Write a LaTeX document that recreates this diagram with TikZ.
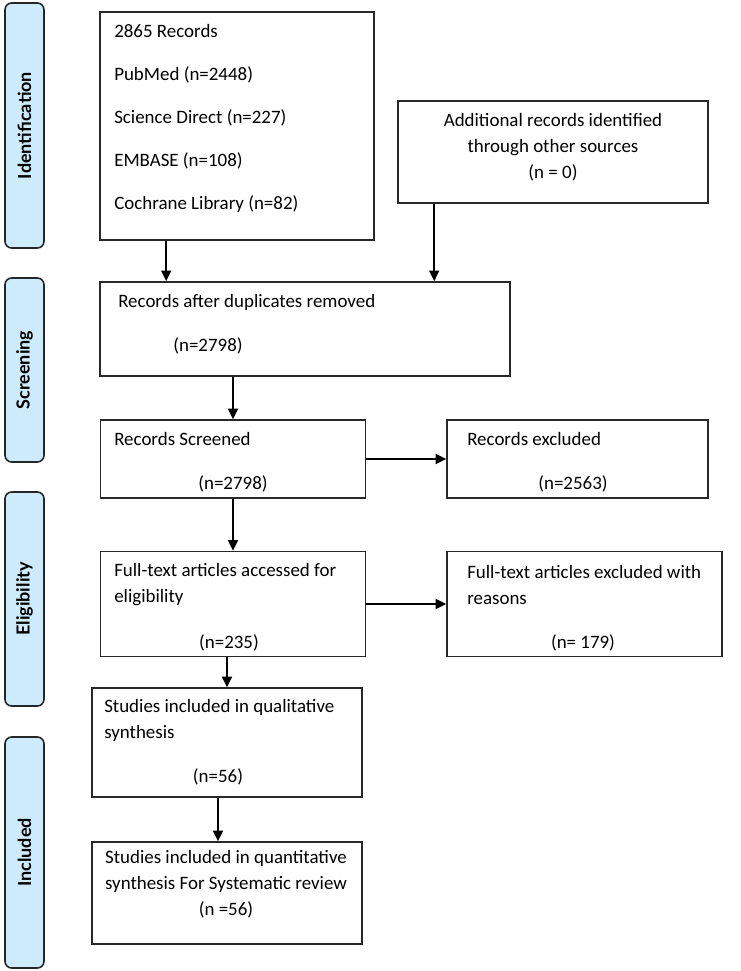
\documentclass[tikz,border=0pt]{standalone}
\usepackage{fontspec}
\setmainfont{Carlito}
\newfontfamily\phasefont{Lato}
\usetikzlibrary{calc,positioning,arrows.meta}
\definecolor{phasefill}{RGB}{205,235,250}
\definecolor{boxline}{RGB}{40,40,40}

\begin{document}
\begin{tikzpicture}[
  x=0.75pt, y=-0.75pt,
  phase/.style={draw=black!85, fill=phasefill, rounded corners=5pt, line width=1.2pt,
    rotate=90, minimum height=29.25pt, inner sep=0pt,
    font=\phasefont\bfseries\fontsize{13.5}{15}\selectfont},
  box/.style={draw=boxline, line width=1.2pt, inner sep=0pt},
  txt/.style={font=\fontsize{14.2}{19.5}\selectfont, inner sep=0pt, align=left, anchor=west},
  num/.style={font=\fontsize{14.2}{19.5}\selectfont, inner sep=0pt, align=center},
  arr/.style={-{Triangle[length=8pt,width=7.5pt]}, line width=1.4pt},
]
  \useasboundingbox (0,0) rectangle (740,971);

  % phases
  \node[phase, minimum width=183.75pt] (ident) at (24.5,125.5) {Identification};
  \node[phase, minimum width=138pt] (screen) at (24.5,370) {Screening};
  \node[phase, minimum width=160.5pt] (elig) at (24.5,599) {Eligibility};
  \node[phase, minimum width=173.25pt] (incl) at (24.5,852.5) {Included};

  % boxes
  \node[box, minimum width=205.5pt, minimum height=171pt] (recs) at (237,126) {};
  \node[box, minimum width=232.5pt, minimum height=76.5pt] (extra) at (553,152) {};
  \node[box, minimum width=307.5pt, minimum height=70.5pt] (dedup) at (305,329) {};
  \node[box, minimum width=198.75pt, minimum height=58.5pt] (scr) at (233,459) {};
  \node[box, minimum width=195.75pt, minimum height=58.5pt] (scrx) at (577.5,459) {};
  \node[box, minimum width=198.75pt, minimum height=78.75pt] (full) at (233,604) {};
  \node[box, minimum width=206.25pt, minimum height=78.75pt] (fullx) at (584.5,604) {};
  \node[box, minimum width=202.5pt, minimum height=81.75pt] (qual) at (227,742.5) {};
  \node[box, minimum width=202.5pt, minimum height=76.5pt] (quant) at (227,893) {};

  % texts
  \node[txt, font=\fontsize{14.2}{32.25}\selectfont] (recst) at (114,118.5)
    {2865 Records\\PubMed (n=2448)\\Science Direct (n=227)\\EMBASE (n=108)\\Cochrane Library (n=82)};
  \node[num] (extrat) at (553,147)
    {Additional records identified\\through other sources\\(n = 0)};
  \node[txt] (dedupt) at (118,302) {Records after duplicates removed};
  \node[num] (dedupn) at (208,346) {(n=2798)};
  \node[txt] (scrt) at (114,439) {Records Screened};
  \node[num] (scrn) at (233,484) {(n=2798)};
  \node[txt] (scrxt) at (467,439) {Records excluded};
  \node[num] (scrxn) at (573,484) {(n=2563)};
  \node[txt] (fullt) at (114,585) {Full-text articles accessed for\\eligibility};
  \node[num] (fulln) at (229,643) {(n=235)};
  \node[txt] (fullxt) at (467,585) {Full-text articles excluded with\\reasons};
  \node[num] (fullxn) at (583,643) {(n= 179)};
  \node[txt] (qualt) at (104,720) {Studies included in qualitative\\synthesis};
  \node[num] (qualn) at (218,777) {(n=56)};
  \node[num] (quantt) at (226,884)
    {Studies included in quantitative\\synthesis For Systematic review\\(n =56)};

  % arrows
  \draw[arr] ([xshift=50.25pt]recs.south west) -- ([xshift=50.25pt]dedup.north west);
  \draw[arr] ([xshift=27.75pt]extra.south west) -- ([xshift=27.75pt]extra.south west |- dedup.north);
  \draw[arr] (dedup.south -| scr.north) -- (scr.north);
  \draw[arr] (scr.east) -- (scrx.west);
  \draw[arr] (scr.south) -- (full.north);
  \draw[arr] (full.east) -- (fullx.west);
  \draw[arr] (full.south -| qual.north) -- (qual.north);
  \draw[arr] ([xshift=-6.75pt]qual.south) -- ([xshift=-6.75pt]quant.north);
\end{tikzpicture}
\end{document}
